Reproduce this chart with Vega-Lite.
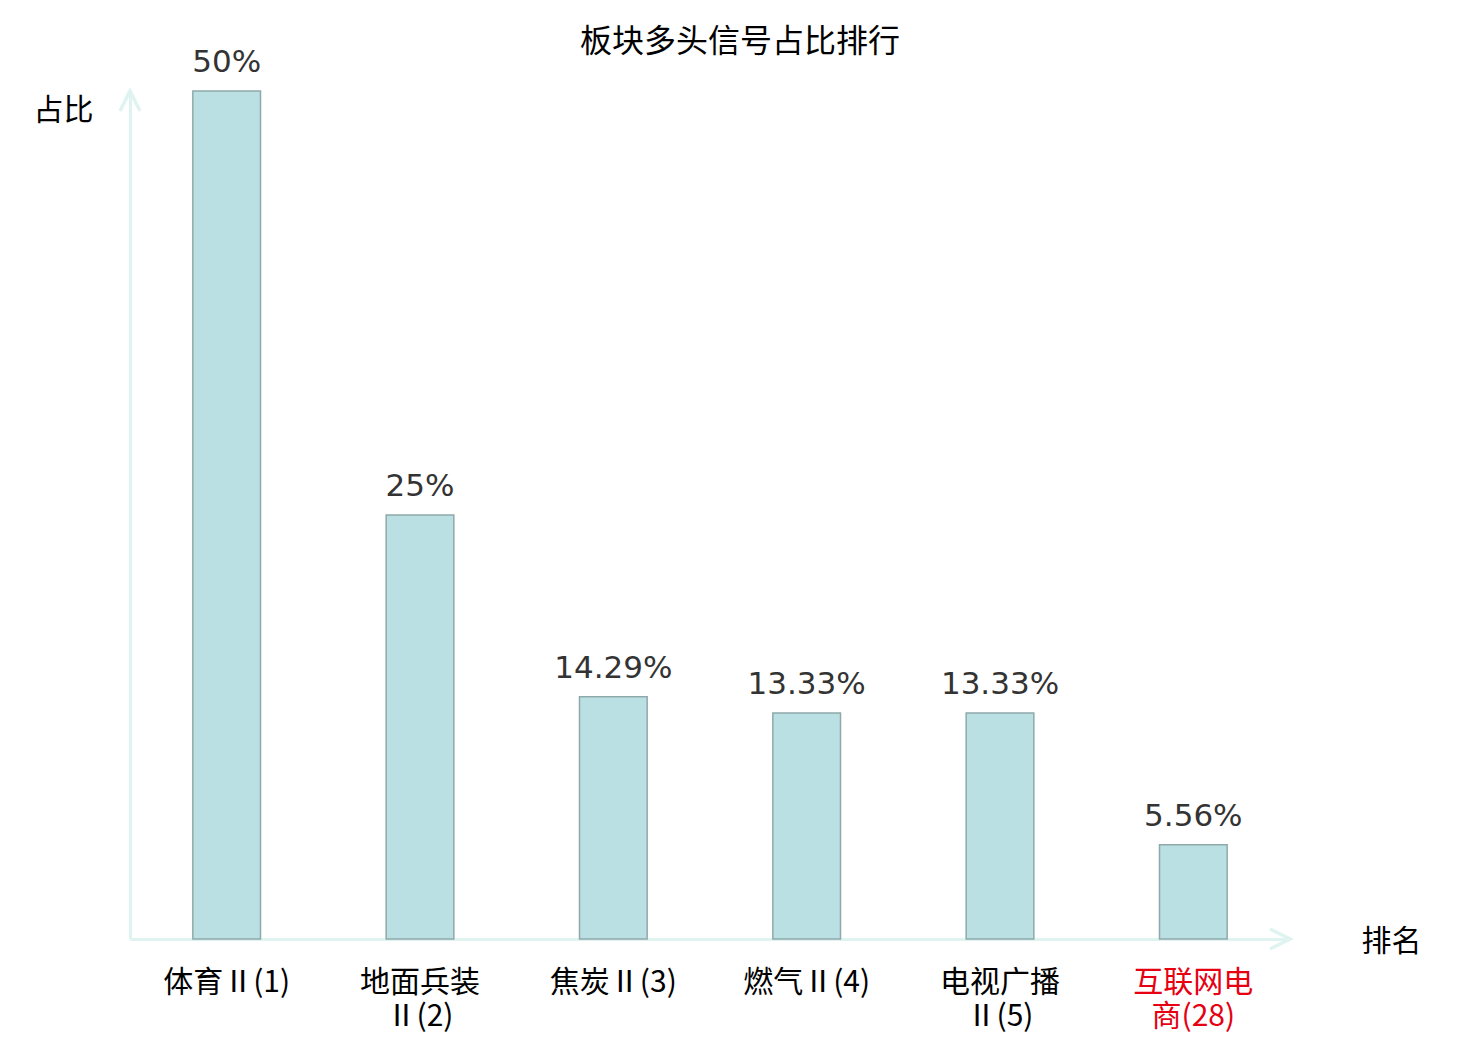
{
  "$schema": "https://vega.github.io/schema/vega-lite/v6.json",
  "width": 1160,
  "height": 848,
  "autosize": {"type": "none"},
  "padding": {"left": 130, "top": 91, "right": 190, "bottom": 101},
  "background": "white",
  "title": {
    "text": "板块多头信号占比排行",
    "font": "Noto Sans CJK SC",
    "fontSize": 32,
    "fontWeight": "normal",
    "color": "#000000",
    "anchor": "middle",
    "frame": "group",
    "dx": 30,
    "dy": 32,
    "baseline": "middle",
    "offset": 5
  },
  "config": {
    "view": {"stroke": null},
    "axis": {"grid": false, "ticks": false}
  },
  "data": {
    "values": [
      {"name": "体育Ⅱ(1)", "share": 0.5},
      {"name": "地面兵装Ⅱ(2)", "share": 0.25},
      {"name": "焦炭Ⅱ(3)", "share": 0.1429},
      {"name": "燃气Ⅱ(4)", "share": 0.1333},
      {"name": "电视广播Ⅱ(5)", "share": 0.1333},
      {"name": "互联网电商(28)", "share": 0.0556}
    ]
  },
  "layer": [
    {
      "mark": {"type": "bar", "fill": "#bbe0e3", "stroke": "#8fa9aa", "strokeWidth": 1.5},
      "encoding": {
        "x": {
          "field": "name", "type": "nominal", "sort": null,
          "scale": {"paddingInner": 0.65, "paddingOuter": 0.325},
          "axis": {
            "title": "排名",
            "titleFont": "Noto Sans CJK SC",
            "titleFontSize": 30,
            "titleFontWeight": "normal",
            "titleColor": "#000000",
            "titleAlign": "center",
            "titleBaseline": "middle",
            "titleX": 1261,
            "titleY": 2,
            "domainColor": "#dff3f0",
            "domainWidth": 3,
            "labelAngle": 0,
            "labelFont": "Noto Sans CJK SC",
            "labelFontSize": 30,
            "labelPadding": 28,
            "labelBaseline": "top",
            "labelLineHeight": 34,
            "labelLimit": 0,
            "labelColor": {"condition": {"test": "datum.value == '互联网电商(28)'", "value": "#e60012"}, "value": "#000000"},
            "labelExpr": "length(datum.label) > 6 ? [substring(datum.label, 0, 4), substring(datum.label, 4)] : datum.label"
          }
        },
        "y": {
          "field": "share", "type": "quantitative",
          "scale": {"domain": [0, 0.5], "nice": false},
          "axis": {
            "title": "占比",
            "titleFont": "Noto Sans CJK SC",
            "titleFontSize": 30,
            "titleFontWeight": "normal",
            "titleColor": "#000000",
            "titleAngle": 0,
            "titleAlign": "center",
            "titleBaseline": "middle",
            "titleX": -67,
            "titleY": 19,
            "domainColor": "#dff3f0",
            "domainWidth": 3,
            "labels": false
          }
        }
      }
    },
    {
      "mark": {"type": "text", "font": "DejaVu Sans", "fontSize": 31, "color": "#333333", "baseline": "alphabetic", "dy": -19},
      "encoding": {
        "x": {"field": "name", "type": "nominal", "sort": null},
        "y": {"field": "share", "type": "quantitative"},
        "text": {"field": "share", "type": "quantitative", "format": ".2~%"}
      }
    },
    {
      "data": {"values": [{"axis": "x"}]},
      "mark": {"type": "point", "shape": "M -1 -0.5 L 0 0 L -1 0.5", "x": "width", "y": "height", "size": 1600, "filled": false, "stroke": "#dff3f0", "strokeWidth": 3.5, "opacity": 1},
      "encoding": {}
    },
    {
      "data": {"values": [{"axis": "y"}]},
      "mark": {"type": "point", "shape": "M -0.5 1 L 0 0 L 0.5 1", "x": 0, "y": 0, "size": 1600, "filled": false, "stroke": "#dff3f0", "strokeWidth": 3.5, "opacity": 1},
      "encoding": {}
    }
  ]
}
